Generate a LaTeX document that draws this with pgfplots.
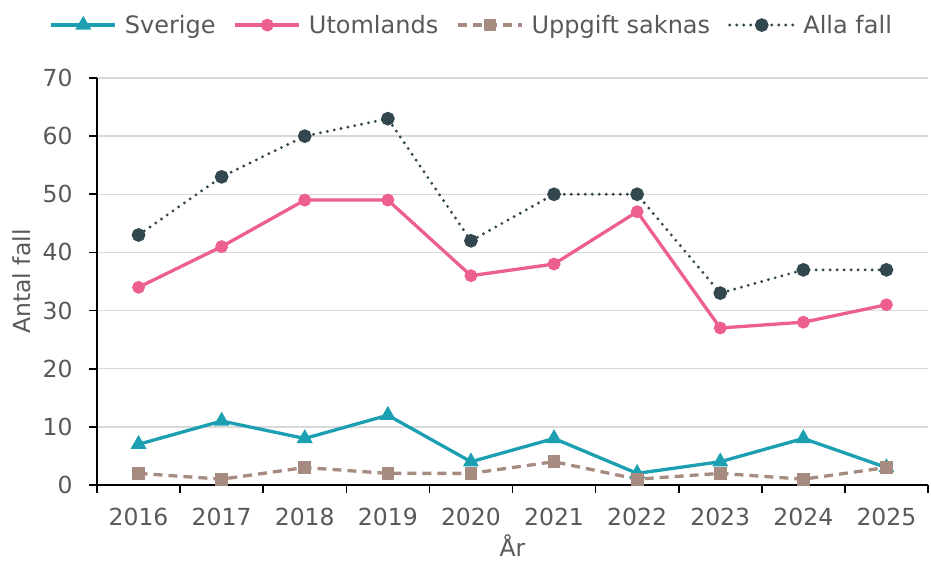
\documentclass[border=0pt]{standalone}
\usepackage{pgfplots}
\pgfplotsset{compat=1.18}
\usepackage{fontspec}
\setmainfont{DejaVu Sans}
\definecolor{cSve}{HTML}{1B9FB1}
\definecolor{cUto}{HTML}{EC5F8E}
\definecolor{cUpp}{HTML}{A68B80}
\definecolor{cAll}{HTML}{33474F}
\definecolor{cTxt}{HTML}{595959}
\definecolor{cGrid}{HTML}{D9D9D9}
\begin{document}
\begin{tikzpicture}
\begin{axis}[name=ax,
  scale only axis, width=831pt, height=407pt,
  xmin=-0.5, xmax=9.5, ymin=0, ymax=70,
  axis x line=bottom, axis y line=left,
  axis line style={-, black, line width=1.6pt},
  xtick={0,...,9},
  xticklabels={2016,2017,2018,2019,2020,2021,2022,2023,2024,2025},
  major x tick style={draw=none},
  minor xtick={-0.5,0.5,...,9.5},
  minor tick length=8pt,
  ytick={0,10,...,70},
  major tick length=8pt,
  tick align=outside,
  tick style={black, line width=1.6pt},
  ymajorgrids, grid style={cGrid, line width=1.5pt},
  ticklabel style={font=\fontsize{23.5}{26}\selectfont, text=cTxt},
  xticklabel style={yshift=-12pt},
  yticklabel style={xshift=-13pt},
  /pgf/number format/assume math mode=true,
  xlabel={År}, ylabel={Antal fall},
  label style={font=\fontsize{23.5}{26}\selectfont, text=cTxt},
  xlabel style={at={(axis description cs:0.5,-0.15)}, anchor=center},
  ylabel style={at={(axis description cs:-0.09,0.5)}, anchor=center},
  legend columns=4,
  legend style={at={(axis description cs:0.451,1.13)}, anchor=center, draw=none, fill=none,
    font=\fontsize{24}{26}\selectfont, text=cTxt,
    /tikz/every odd column/.append style={column sep=6pt},
    /tikz/every even column/.append style={column sep=16pt}},
  legend image code/.code={\draw[mark repeat=2,mark phase=2,#1] plot coordinates {(0pt,0pt)(32pt,0pt)(64pt,0pt)};},
]
\addplot[cSve, line width=3.3pt, mark=triangle*, mark size=6pt, mark options={solid}] coordinates {
(0,7)(1,11)(2,8)(3,12)(4,4)(5,8)(6,2)(7,4)(8,8)(9,3)};
\addlegendentry{Sverige}
\addplot[cUto, line width=3.3pt, mark=*, mark size=4.7pt, mark options={solid}] coordinates {
(0,34)(1,41)(2,49)(3,49)(4,36)(5,38)(6,47)(7,27)(8,28)(9,31)};
\addlegendentry{Utomlands}
\addplot[cUpp, line width=3.3pt, dash pattern=on 9pt off 6pt, mark=square*, mark size=4.7pt, mark options={solid}] coordinates {
(0,2)(1,1)(2,3)(3,2)(4,2)(5,4)(6,1)(7,2)(8,1)(9,3)};
\addlegendentry{Uppgift saknas}
\addplot[cAll, line width=3.2pt, line cap=round, dash pattern=on 0pt off 7pt, mark=*, mark size=5.2pt, mark options={solid}] coordinates {
(0,43)(1,53)(2,60)(3,63)(4,42)(5,50)(6,50)(7,33)(8,37)(9,37)};
\addlegendentry{Alla fall}
\end{axis}
\pgfresetboundingbox
\path[use as bounding box] ([xshift=-97pt,yshift=-78pt]ax.south west) rectangle ([xshift=3pt,yshift=78pt]ax.north east);
\end{tikzpicture}
\end{document}
